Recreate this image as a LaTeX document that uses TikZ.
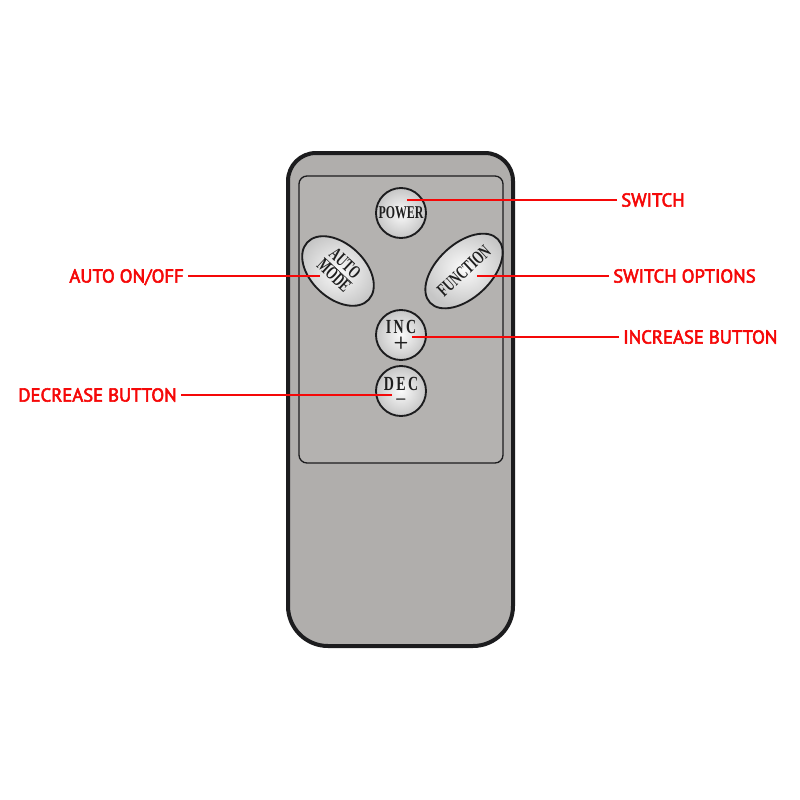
\documentclass[tikz,border=0pt]{standalone}
\usepackage{fontspec}
\setmainfont{PT Sans}
\newfontfamily\tagfont[FakeBold=3]{PT Sans}
\newfontfamily\keyfont[FakeStretch=0.66]{Liberation Serif}
\newfontfamily\keywidefont[FakeStretch=0.7,LetterSpace=12]{Liberation Serif}
\usetikzlibrary{shapes.geometric}
\definecolor{tagred}{RGB}{245,8,8}
\definecolor{casegray}{RGB}{176,174,172}
\definecolor{panelgray}{RGB}{180,178,176}
\definecolor{rimblack}{RGB}{28,28,30}
\tikzset{
  tag/.style={text=tagred, font=\tagfont\fontsize{14}{14}\selectfont, inner sep=3pt, text height=9.8pt, text depth=0pt},
  lead/.style={draw=tagred, line width=1.8pt},
  key/.style={draw=rimblack, line width=1.4pt, inner color=white!97!gray, outer color=gray!45, text=black!88, inner sep=0pt, align=center},
  roundkey/.style={key, circle, minimum size=37.5pt, font=\keyfont\bfseries\fontsize{13.5}{11}\selectfont},
  ovalkey/.style={key, ellipse, minimum width=63pt, minimum height=40.5pt, font=\keyfont\bfseries\fontsize{14}{12}\selectfont},
  signkey/.style={roundkey, font=\keywidefont\bfseries\fontsize{15}{12}\selectfont}
}

\begin{document}
\begin{tikzpicture}[x=0.75pt,y=0.75pt,yscale=-1,xscale=1]
\path [use as bounding box] (0,0) rectangle (800,800);

%Shape: Case
\draw [draw=rimblack, fill=casegray, line width=3pt, rounded corners=21pt] (288,400) -- (288,153) -- (513,153) -- (513,400) [rounded corners=30pt] -- (513,646) -- (288,646) -- cycle;
%Shape: Key panel
\draw [draw=rimblack, fill=panelgray, line width=1pt, rounded corners=6pt] (299,176) rectangle (503,463);

% Keys
\node [roundkey] (power) at (401,213) {POWER};
\node [ovalkey, rotate=-43] (auto) at (338,271) {\begin{tabular}{@{}c@{}}AUTO\\[-1pt]\hline MODE\end{tabular}};
\node [ovalkey, rotate=43] (function) at (464,271) {FUNCTION};
\node [signkey] (inc) at (401,335) {INC\\[-2pt]{\sffamily\bfseries\fontsize{13}{10}\selectfont +}};
\node [signkey] (dec) at (401,391) {DEC\\[-2pt]{\sffamily\bfseries\fontsize{13}{10}\selectfont \textendash}};

% Lead ends
\coordinate (power tip) at (407,200);
\coordinate (auto tip) at (320,276);
\coordinate (function tip) at (477,276);
\coordinate (inc tip) at (412,337);
\coordinate (dec tip) at (392,395);

% Text Node
\node [tag, anchor=west] (switch) at (617,200) {SWITCH};
% Text Node
\node [tag, anchor=east] (autoonoff) at (188,276) {AUTO ON/OFF};
% Text Node
\node [tag, anchor=west] (options) at (609,276) {SWITCH OPTIONS};
% Text Node
\node [tag, anchor=west] (increase) at (619,337) {INCREASE BUTTON};
% Text Node
\node [tag, anchor=east] (decrease) at (181,395) {DECREASE BUTTON};

%Straight Lines
\draw [lead] (switch.west) -- (power tip);
\draw [lead] (autoonoff.east) -- (auto tip);
\draw [lead] (options.west) -- (function tip);
\draw [lead] (increase.west) -- (inc tip);
\draw [lead] (decrease.east) -- (dec tip);

\end{tikzpicture}
\end{document}
